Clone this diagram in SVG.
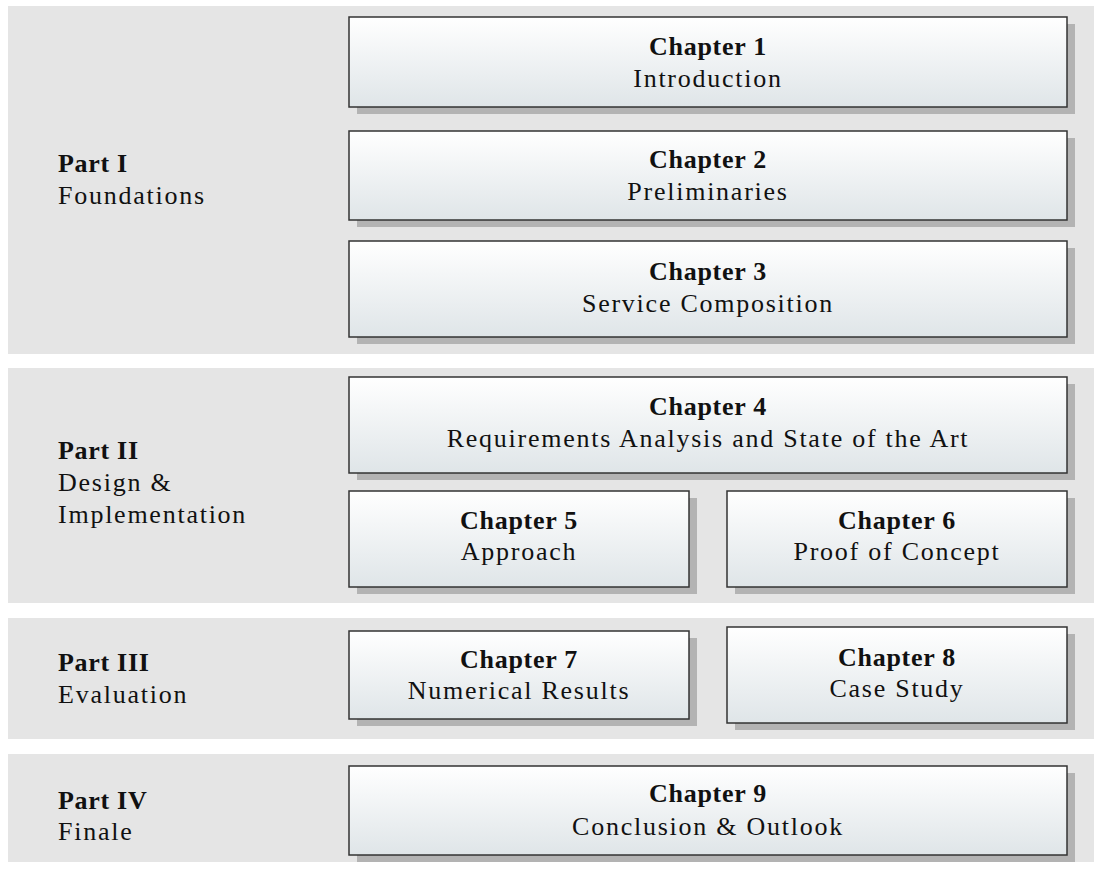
<svg xmlns="http://www.w3.org/2000/svg" width="1094" height="870" viewBox="0 0 1094 870">
  <style>
    .band { fill: #e5e5e5; }
    .shadow { fill: #b3b3b3; }
    .box { fill: url(#boxFill); stroke: #333333; stroke-width: 1.5; }
    text { font-family: "Liberation Serif", "DejaVu Serif", serif; font-size: 26px; fill: #111111; letter-spacing: 1.75px; }
    .title { font-weight: bold; letter-spacing: 0.7px; }
    .ch { text-anchor: middle; }
  </style>
  <defs>
    <linearGradient id="boxFill" x1="0" y1="0" x2="0" y2="1">
      <stop offset="0" stop-color="#ffffff"/>
      <stop offset="1" stop-color="#dfe5e8"/>
    </linearGradient>
  </defs>
  <rect width="1094" height="870" fill="#ffffff"/>

  <!-- part bands -->
  <g id="part1">
    <rect class="band" x="8" y="6" width="1086" height="348"/>
    <text x="58" y="172" class="title">Part I</text>
    <text x="58" y="204">Foundations</text>
  </g>
  <g id="part2">
    <rect class="band" x="8" y="368" width="1086" height="235"/>
    <text x="58" y="459" class="title">Part II</text>
    <text x="58" y="491">Design &amp;</text>
    <text x="58" y="523">Implementation</text>
  </g>
  <g id="part3">
    <rect class="band" x="8" y="618" width="1086" height="121"/>
    <text x="58" y="671" class="title">Part III</text>
    <text x="58" y="703">Evaluation</text>
  </g>
  <g id="part4">
    <rect class="band" x="8" y="754" width="1086" height="108"/>
    <text x="58" y="809" class="title">Part IV</text>
    <text x="58" y="840">Finale</text>
  </g>

  <!-- chapter boxes -->
  <g id="chapter1">
    <rect class="shadow" x="357" y="24" width="718" height="90"/>
    <rect class="box" x="349" y="17" width="718" height="90"/>
    <text class="ch title" x="708" y="55">Chapter 1</text>
    <text class="ch" x="708" y="87">Introduction</text>
  </g>
  <g id="chapter2">
    <rect class="shadow" x="357" y="138" width="718" height="89"/>
    <rect class="box" x="349" y="131" width="718" height="89"/>
    <text class="ch title" x="708" y="168">Chapter 2</text>
    <text class="ch" x="708" y="200">Preliminaries</text>
  </g>
  <g id="chapter3">
    <rect class="shadow" x="357" y="248" width="718" height="96"/>
    <rect class="box" x="349" y="241" width="718" height="96"/>
    <text class="ch title" x="708" y="280">Chapter 3</text>
    <text class="ch" x="708" y="312">Service Composition</text>
  </g>
  <g id="chapter4">
    <rect class="shadow" x="357" y="384" width="718" height="96"/>
    <rect class="box" x="349" y="377" width="718" height="96"/>
    <text class="ch title" x="708" y="415">Chapter 4</text>
    <text class="ch" x="708" y="447">Requirements Analysis and State of the Art</text>
  </g>
  <g id="chapter5">
    <rect class="shadow" x="357" y="498" width="340" height="96"/>
    <rect class="box" x="349" y="491" width="340" height="96"/>
    <text class="ch title" x="519" y="529">Chapter 5</text>
    <text class="ch" x="519" y="560">Approach</text>
  </g>
  <g id="chapter6">
    <rect class="shadow" x="735" y="498" width="340" height="96"/>
    <rect class="box" x="727" y="491" width="340" height="96"/>
    <text class="ch title" x="897" y="529">Chapter 6</text>
    <text class="ch" x="897" y="560">Proof of Concept</text>
  </g>
  <g id="chapter7">
    <rect class="shadow" x="357" y="638" width="340" height="88"/>
    <rect class="box" x="349" y="631" width="340" height="88"/>
    <text class="ch title" x="519" y="668">Chapter 7</text>
    <text class="ch" x="519" y="699">Numerical Results</text>
  </g>
  <g id="chapter8">
    <rect class="shadow" x="735" y="634" width="340" height="96"/>
    <rect class="box" x="727" y="627" width="340" height="96"/>
    <text class="ch title" x="897" y="666">Chapter 8</text>
    <text class="ch" x="897" y="697">Case Study</text>
  </g>
  <g id="chapter9">
    <rect class="shadow" x="357" y="773" width="718" height="89"/>
    <rect class="box" x="349" y="766" width="718" height="89"/>
    <text class="ch title" x="708" y="802">Chapter 9</text>
    <text class="ch" x="708" y="835">Conclusion &amp; Outlook</text>
  </g>

  <!-- no connectors in this layout -->
  <g id="connectors"/>
</svg>
